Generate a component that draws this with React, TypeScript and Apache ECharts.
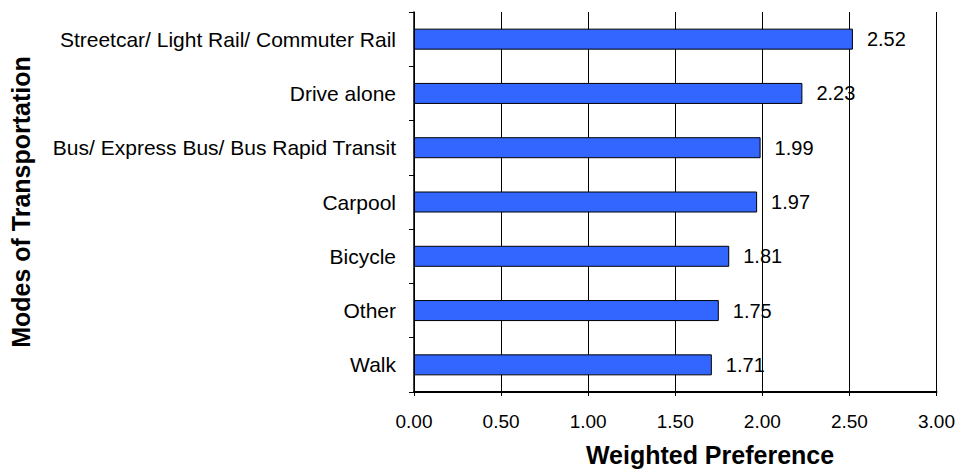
import React, { useEffect, useRef } from "react";
import * as echarts from "echarts";

const categories = [
  "Walk",
  "Other",
  "Bicycle",
  "Carpool",
  "Bus/ Express Bus/ Bus Rapid Transit",
  "Drive alone",
  "Streetcar/ Light Rail/ Commuter Rail",
];
const values = [1.71, 1.75, 1.81, 1.97, 1.99, 2.23, 2.52];
const xMin = 0;
const xMax = 3;
const xInterval = 0.5;
const xTitle = "Weighted Preference";
const yTitle = "Modes of Transportation";

const FONT = "'Liberation Sans', Arial, sans-serif";

export default function App() {
  const ref = useRef<HTMLDivElement>(null);
  useEffect(() => {
    if (!ref.current) return;
    const chart = echarts.init(ref.current, null, { renderer: "svg" });
    chart.setOption({
      animation: false,
      backgroundColor: "#ffffff",
      textStyle: { fontFamily: FONT },
      grid: { left: 411, right: 19, top: 12, bottom: 79, containLabel: false },
      graphic: [
        {
          type: "text",
          x: 710,
          y: 455,
          style: {
            text: xTitle,
            font: `bold 25px ${FONT}`,
            fill: "#000",
            align: "center",
            verticalAlign: "middle",
          },
        },
      ],
      xAxis: {
        type: "value",
        min: xMin,
        max: xMax,
        interval: xInterval,
        axisLine: { show: true, lineStyle: { color: "#000", width: 2 } },
        axisTick: { show: true, length: 4, lineStyle: { color: "#000", width: 1 } },
        axisLabel: {
          fontFamily: FONT,
          fontSize: 19,
          color: "#000",
          margin: 20,
          formatter: (v: number) => v.toFixed(2),
        },
        splitLine: { show: true, lineStyle: { color: "#000", width: 1 } },
      },
      yAxis: {
        type: "category",
        data: categories,
        name: yTitle,
        nameLocation: "middle",
        nameGap: 381,
        nameRotate: 90,
        nameTextStyle: { fontFamily: FONT, fontSize: 25, fontWeight: "bold", color: "#000" },
        axisLine: { show: true, lineStyle: { color: "#000", width: 1.5 } },
        axisTick: { show: true, length: 5, lineStyle: { color: "#000", width: 1 } },
        axisLabel: { fontFamily: FONT, fontSize: 21, color: "#000", margin: 18 },
        splitLine: { show: false },
      },
      series: [
        {
          type: "bar",
          data: values,
          barWidth: 21,
          itemStyle: { color: "#3366FF", borderColor: "#000", borderWidth: 1 },
          label: {
            show: true,
            position: "right",
            distance: 14,
            fontFamily: FONT,
            fontSize: 20,
            color: "#000",
            formatter: (p: any) => Number(p.value).toFixed(2),
          },
        },
      ],
    });
    return () => chart.dispose();
  }, []);
  return <div ref={ref} style={{ width: 958, height: 471, position: "fixed", left: 0, top: 0 }} />;
}
